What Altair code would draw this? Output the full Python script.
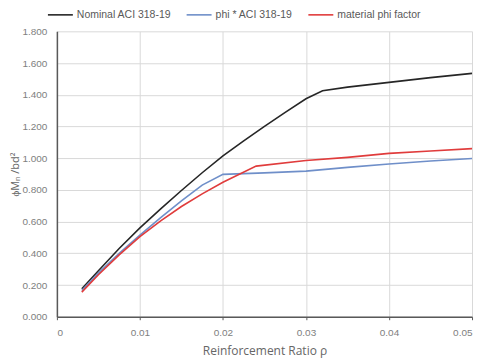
import altair as alt
import pandas as pd

series_names = ["Nominal ACI 318-19", "phi * ACI 318-19", "material phi factor"]
colors = ["#262626", "#6f8fc9", "#e03c3c"]

nominal_rho = [0.003, 0.005, 0.0075, 0.01, 0.0125, 0.015, 0.0175, 0.02, 0.0225, 0.025, 0.0275, 0.03, 0.032, 0.035, 0.04, 0.045, 0.05]
nominal_val = [0.176, 0.29, 0.43, 0.56, 0.68, 0.796, 0.908, 1.015, 1.109, 1.20, 1.289, 1.375, 1.425, 1.448, 1.478, 1.508, 1.535]

phi_rho = [0.003, 0.005, 0.0075, 0.01, 0.0125, 0.015, 0.0175, 0.02, 0.025, 0.03, 0.035, 0.04, 0.045, 0.05]
phi_val = [0.165, 0.275, 0.40, 0.515, 0.625, 0.73, 0.83, 0.898, 0.907, 0.918, 0.942, 0.963, 0.982, 0.998]

mat_rho = [0.003, 0.005, 0.0075, 0.01, 0.0125, 0.015, 0.0175, 0.02, 0.024, 0.03, 0.035, 0.04, 0.045, 0.05]
mat_val = [0.155, 0.265, 0.39, 0.505, 0.605, 0.695, 0.775, 0.848, 0.95, 0.985, 1.005, 1.03, 1.045, 1.06]

rows = []
for name, xs, ys in [(series_names[0], nominal_rho, nominal_val),
                     (series_names[1], phi_rho, phi_val),
                     (series_names[2], mat_rho, mat_val)]:
    for i, (x, y) in enumerate(zip(xs, ys)):
        rows.append({"series": name, "rho": x, "val": y, "order": i})
df = pd.DataFrame(rows)

x_ticks = [0, 0.01, 0.02, 0.03, 0.04, 0.05]
y_ticks = [0, 0.2, 0.4, 0.6, 0.8, 1.0, 1.2, 1.4, 1.6, 1.8]

chart = alt.Chart(df).mark_line(strokeWidth=1.6).encode(
    x=alt.X("rho:Q", scale=alt.Scale(domain=[0, 0.05], nice=False),
            axis=alt.Axis(values=x_ticks, title="Reinforcement Ratio ρ",
                          labelExpr="datum.value == 0 ? '0' : format(datum.value, '.2f')",
                          grid=True, gridColor="#d9d9d9", domainColor="#595959", domainWidth=1.5,
                          tickColor="#595959", tickSize=3, labelColor="#808080",
                          labelFont="Liberation Sans", labelFontSize=10, labelPadding=8,
                          titleFont="Open Sans", titleFontSize=12, titleFontWeight="normal",
                          titleColor="#666666", titlePadding=8)),
    y=alt.Y("val:Q", scale=alt.Scale(domain=[0, 1.8], nice=False),
            axis=alt.Axis(values=y_ticks, format=".3f", title="ϕMₙ /bd²",
                          grid=True, gridColor="#d9d9d9", domainColor="#595959", domainWidth=1.5,
                          ticks=False, labelColor="#808080",
                          labelFont="Liberation Sans", labelFontSize=10, labelPadding=10,
                          titleFont="Open Sans", titleFontSize=11, titleFontWeight="normal",
                          titleColor="#666666", titlePadding=1)),
    color=alt.Color("series:N", scale=alt.Scale(domain=series_names, range=colors),
                    legend=alt.Legend(title=None, orient="none", direction="horizontal",
                                      legendX=-10, legendY=-30,
                                      symbolType="stroke", symbolSize=625, symbolStrokeWidth=1.6,
                                      labelFont="Liberation Sans", labelFontSize=10.5,
                                      labelColor="#595959", columnPadding=11, labelOffset=3)),
    order="order:Q",
).properties(
    width=416, height=286,
    padding={"left": 49, "top": 23, "right": 10, "bottom": 45},
    autosize=alt.AutoSizeParams(type="none"),
).configure_view(stroke=None)

chart.save("out.html", embed_options={"renderer": "svg", "actions": False})
